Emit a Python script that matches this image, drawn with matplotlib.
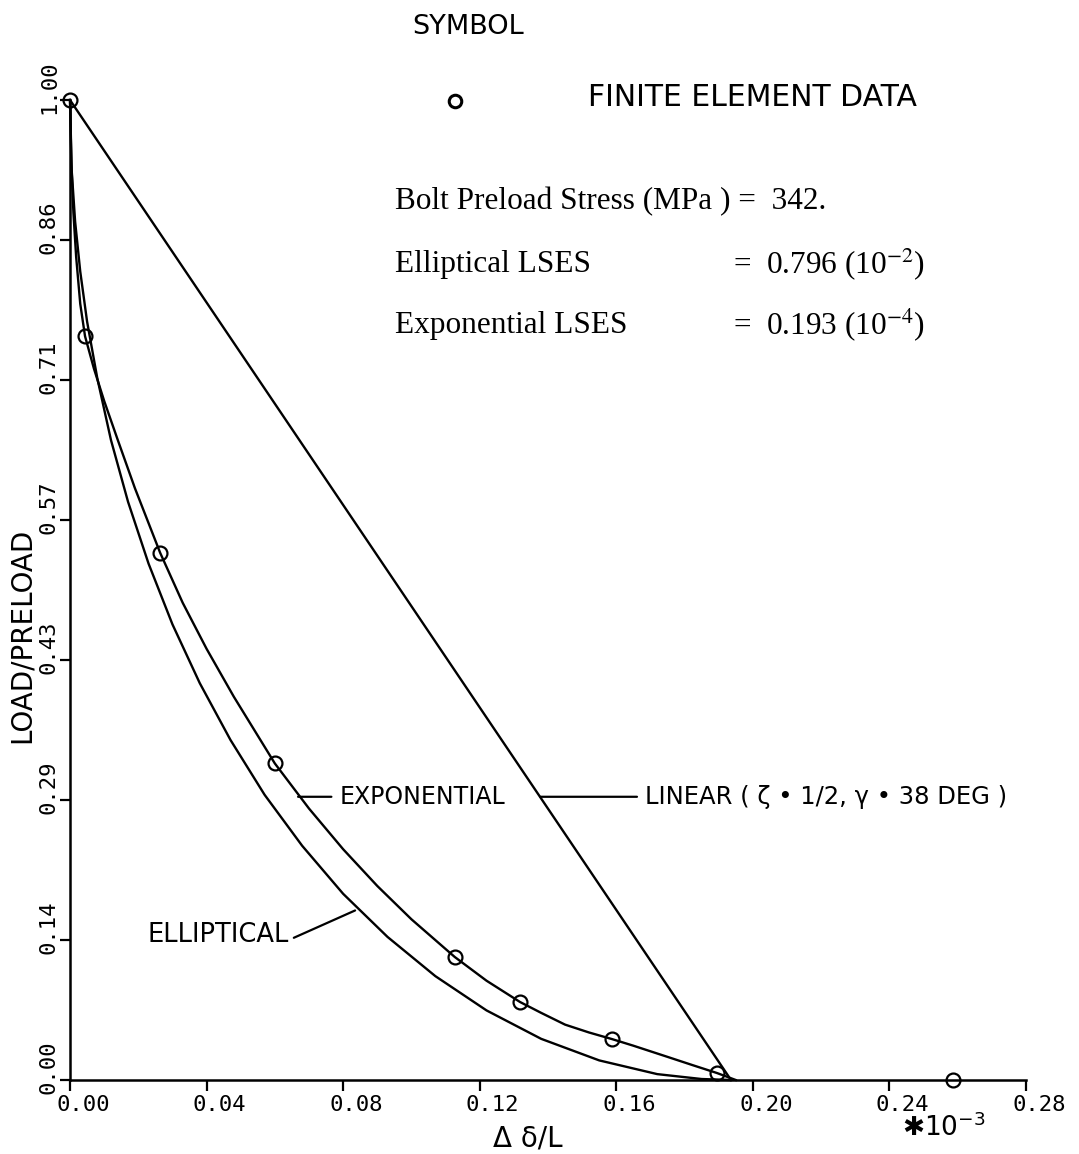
"""
Load/preload vs. normalized joint separation: FE data with exponential,
elliptical and linear fits.
"""
import matplotlib.pyplot as plt
from matplotlib.transforms import ScaledTranslation

# finite element data (x in units of 1e-3)
fe_x = [0.0, 0.0044, 0.0264, 0.0600, 0.1127, 0.1318, 0.1587, 0.1895, 0.2586]
fe_y = [1.0, 0.759, 0.538, 0.323, 0.1255, 0.0796, 0.0418, 0.0071, 0.0]

# exponential fit
exp_x = [0.0, 0.0004, 0.0010, 0.0018, 0.0030, 0.0044, 0.0070, 0.0100, 0.0140,
         0.0190, 0.0264, 0.0330, 0.0400, 0.0480, 0.0600, 0.0700, 0.0800,
         0.0900, 0.1000, 0.1127, 0.1220, 0.1318, 0.1380, 0.1450, 0.1520,
         0.1587, 0.1650, 0.1750, 0.1825, 0.1895, 0.1950]
exp_y = [1.0, 0.935, 0.885, 0.840, 0.792, 0.759, 0.726, 0.693, 0.653,
         0.604, 0.538, 0.487, 0.440, 0.391, 0.323, 0.277, 0.2355,
         0.198, 0.164, 0.1255, 0.1013, 0.0796, 0.0685, 0.0565, 0.0485,
         0.0418, 0.0350, 0.0236, 0.0150, 0.0071, 0.0]

# elliptical fit
ell_x = [0.0, 0.0005, 0.0015, 0.0030, 0.0050, 0.0080, 0.0120, 0.0170, 0.0230,
         0.0300, 0.0380, 0.0470, 0.0570, 0.0680, 0.0800, 0.0930, 0.1070,
         0.1220, 0.1380, 0.1550, 0.1720, 0.1850, 0.1936]
ell_y = [1.0, 0.928, 0.876, 0.825, 0.774, 0.716, 0.653, 0.590, 0.527,
         0.465, 0.405, 0.347, 0.291, 0.239, 0.190, 0.146, 0.106,
         0.071, 0.042, 0.020, 0.006, 0.001, 0.0]

# linear fit
lin_x = [0.0, 0.1936]
lin_y = [1.0, 0.0]

x_ticks = [0.00, 0.04, 0.08, 0.12, 0.16, 0.20, 0.24, 0.28]
y_ticks = [k / 7 for k in range(8)]
y_ticklabels = ["0.00", "0.14", "0.29", "0.43", "0.57", "0.71", "0.86", "1.00"]

W, H = 1079, 1154
PLOT_FONT = "DejaVu Sans"
TICK_FONT = "DejaVu Sans Mono"
SERIF = "Liberation Serif"


def fx(px):
    return px / W


def fy(py):
    return 1 - py / H


fig = plt.figure(figsize=(W / 100, H / 100), dpi=100)
ax = fig.add_axes([fx(70), fy(1080), fx(1026) - fx(70), fy(100) - fy(1080)])

lw = 1.7
ax.plot(exp_x, exp_y, color="black", lw=lw, clip_on=False)
ax.plot(ell_x, ell_y, color="black", lw=lw, clip_on=False)
ax.plot(lin_x, lin_y, color="black", lw=lw, clip_on=False)
ax.plot(fe_x, fe_y, linestyle="none", marker="o", ms=10, mfc="none",
        mec="black", mew=1.6, clip_on=False, zorder=5)

ax.set_xlim(0, 0.28)
ax.set_ylim(0, 1.0)
ax.spines["top"].set_visible(False)
ax.spines["right"].set_visible(False)
for s in ("left", "bottom"):
    ax.spines[s].set_linewidth(1.8)

ax.set_xticks(x_ticks)
ax.set_xticklabels([f"{v:.2f}" for v in x_ticks], fontsize=16, family=TICK_FONT)
ax.set_yticks(y_ticks)
ax.set_yticklabels(y_ticklabels, fontsize=16, family=TICK_FONT, rotation=90,
                   va="center")
ax.tick_params(axis="x", direction="out", length=8, width=1.6, pad=3)
ax.tick_params(axis="y", direction="out", length=7, width=1.6, pad=1)

# plotter put labels slightly off-centre from the ticks
shift_x = ScaledTranslation(13 / 100, 0, fig.dpi_scale_trans)
shift_y = ScaledTranslation(0, 13 / 100, fig.dpi_scale_trans)
for lab in ax.get_xticklabels():
    lab.set_transform(lab.get_transform() + shift_x)
for lab in ax.get_yticklabels():
    lab.set_transform(lab.get_transform() + shift_y)

ax.set_ylabel("LOAD/PRELOAD", fontsize=20, family=PLOT_FONT)
ax.yaxis.set_label_coords(-0.036, 0.454)
ax.set_xlabel("Δ δ/L", fontsize=20, family=PLOT_FONT, va="top")
ax.xaxis.set_label_coords(0.479, -0.045)

fig.text(fx(902), fy(1128), "✱$10^{-3}$", fontsize=19, family=PLOT_FONT,
         ha="left", va="center")

# legend block
fig.text(fx(412), fy(27), "SYMBOL", fontsize=19.5, family=PLOT_FONT,
         ha="left", va="center")
ax.plot([0.4027], [0.999], transform=ax.transAxes, marker="o", ms=9, mfc="none",
        mec="black", mew=2.2, clip_on=False)
fig.text(fx(588), fy(97), "FINITE ELEMENT DATA", fontsize=21.5, family=PLOT_FONT,
         ha="left", va="center")

fig.text(fx(395), fy(202), "Bolt Preload Stress (MPa ) =  342.", fontsize=22.5,
         family=SERIF, ha="left", va="center")
fig.text(fx(395), fy(264), "Elliptical LSES", fontsize=22.5, family=SERIF,
         ha="left", va="center")
fig.text(fx(733), fy(264), "=  0.796 (10$^{-2}$)", fontsize=22.5, family=SERIF,
         ha="left", va="center", math_fontfamily="stix")
fig.text(fx(395), fy(325), "Exponential LSES", fontsize=22.5, family=SERIF,
         ha="left", va="center")
fig.text(fx(733), fy(325), "=  0.193 (10$^{-4}$)", fontsize=22.5, family=SERIF,
         ha="left", va="center", math_fontfamily="stix")

# curve labels with leader lines
ax.annotate("EXPONENTIAL", xy=(0.0668, 0.289), xytext=(0.0790, 0.289),
            fontsize=17, family=PLOT_FONT, ha="left", va="center",
            arrowprops=dict(arrowstyle="-", lw=1.6, relpos=(0, 0.5),
                            shrinkA=4, shrinkB=0))
ax.annotate("LINEAR ( ζ • 1/2, γ • 38 DEG )", xy=(0.1377, 0.289),
            xytext=(0.1685, 0.289), fontsize=17.5, family=PLOT_FONT,
            ha="left", va="center",
            arrowprops=dict(arrowstyle="-", lw=1.6, relpos=(0, 0.5),
                            shrinkA=4, shrinkB=0))
ax.annotate("ELLIPTICAL", xy=(0.0835, 0.173), xytext=(0.0640, 0.148),
            fontsize=18.5, family=PLOT_FONT, ha="right", va="center",
            arrowprops=dict(arrowstyle="-", lw=1.6, relpos=(1, 0.3),
                            shrinkA=2, shrinkB=0))

fig.savefig("out.png", dpi=100)
